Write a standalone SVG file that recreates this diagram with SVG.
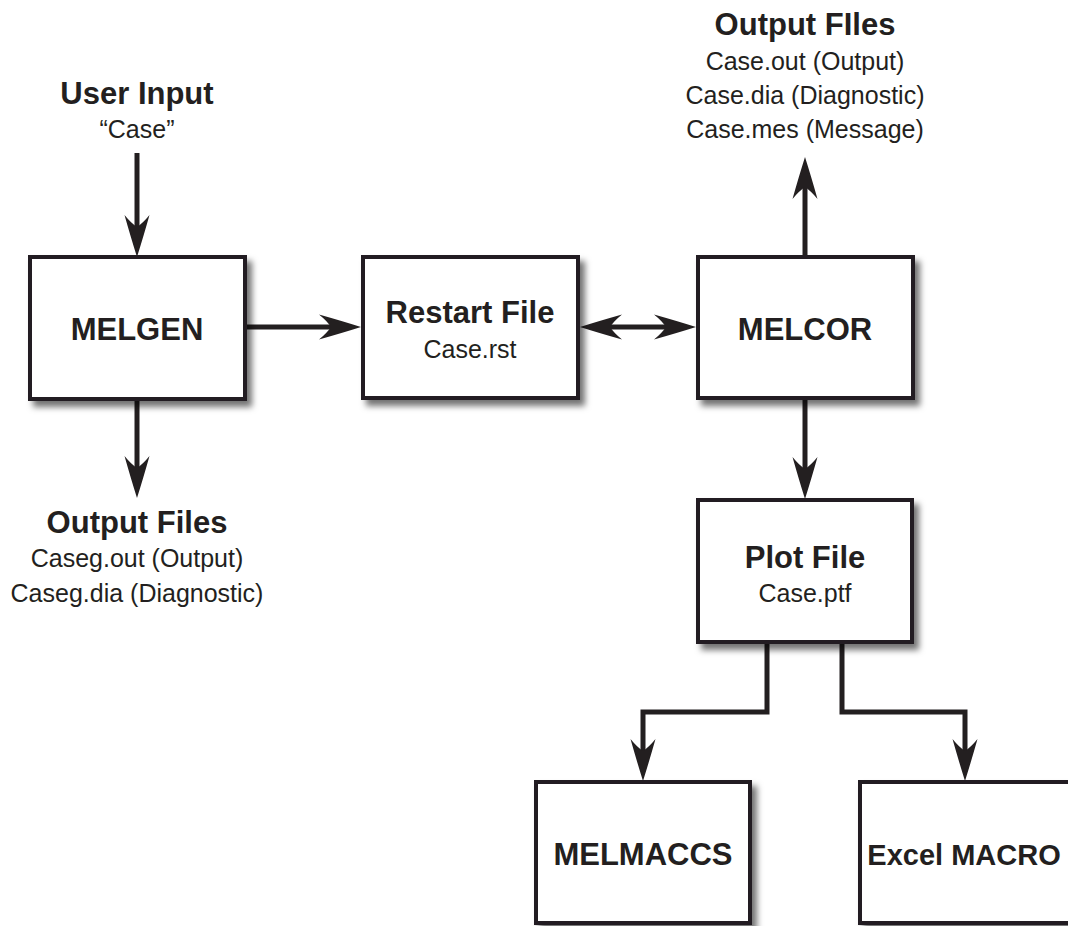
<svg xmlns="http://www.w3.org/2000/svg" width="1068" height="926" viewBox="0 0 1068 926">
<style>
.box{fill:#fff;stroke:#231f20;stroke-width:4;filter:url(#sh)}
.title{font-family:"Liberation Sans",Arial,sans-serif;font-weight:bold;font-size:31px;fill:#231f20;text-anchor:middle}
.sub{font-family:"Liberation Sans",Arial,sans-serif;font-size:25px;fill:#231f20;text-anchor:middle}
.conn{fill:none;stroke:#231f20;stroke-width:5;stroke-linejoin:miter}
.arr{marker-end:url(#ah)}
</style>
<defs>
<filter id="sh" x="-10%" y="-10%" width="130%" height="130%">
<feDropShadow dx="5" dy="6" stdDeviation="3" flood-color="#000" flood-opacity="0.55"/>
</filter>
<marker id="ah" markerUnits="userSpaceOnUse" viewBox="-2 -14 48 28" refX="20" refY="0" markerWidth="48" markerHeight="28" orient="auto-start-reverse" overflow="visible">
<path d="M42,0 Q23,-6 0,-12.5 Q8,-6 12,0 Q8,6 0,12.5 Q23,6 42,0 Z" fill="#231f20"/>
</marker>
</defs>
<rect width="1068" height="926" fill="#fff"/>

<g id="connectors">
<path class="conn arr" d="M137,153 V235"/>
<path class="conn arr" d="M137,399 V476"/>
<path class="conn arr" d="M245,327 H339"/>
<path class="conn arr" d="M602,327 H674" marker-start="url(#ah)"/>
<path class="conn arr" d="M805,257 V179"/>
<path class="conn arr" d="M805,398 V477"/>
<path class="conn arr" d="M767,642 V712 H643 V759"/>
<path class="conn arr" d="M842,642 V712 H965 V759"/>
</g>

<g id="user-input">
<text class="title" x="137" y="104">User Input</text>
<text class="sub" x="137" y="138">“Case”</text>
</g>

<g id="melgen">
<rect class="box" x="30" y="257" width="215" height="142"/>
<text class="title" x="137" y="340">MELGEN</text>
</g>

<g id="melgen-output">
<text class="title" x="137" y="533">Output Files</text>
<text class="sub" x="137" y="567">Caseg.out (Output)</text>
<text class="sub" x="137" y="602">Caseg.dia (Diagnostic)</text>
</g>

<g id="restart-file">
<rect class="box" x="363" y="257" width="215" height="141"/>
<text class="title" x="470" y="323">Restart File</text>
<text class="sub" x="470" y="358">Case.rst</text>
</g>

<g id="melcor">
<rect class="box" x="698" y="257" width="215" height="141"/>
<text class="title" x="805" y="340">MELCOR</text>
</g>

<g id="melcor-output">
<text class="title" x="805" y="35">Output FIles</text>
<text class="sub" x="805" y="70">Case.out (Output)</text>
<text class="sub" x="805" y="104">Case.dia (Diagnostic)</text>
<text class="sub" x="805" y="138">Case.mes (Message)</text>
</g>

<g id="plot-file">
<rect class="box" x="698" y="500" width="214" height="142"/>
<text class="title" x="805" y="568">Plot File</text>
<text class="sub" x="805" y="602">Case.ptf</text>
</g>

<g id="melmaccs">
<rect class="box" x="536" y="782" width="214" height="141"/>
<text class="title" x="643" y="865">MELMACCS</text>
</g>

<g id="excel-macro">
<rect class="box" x="860" y="782" width="214" height="141"/>
<text class="title" x="964" y="865" style="font-size:29px">Excel MACRO</text>
</g>
</svg>
